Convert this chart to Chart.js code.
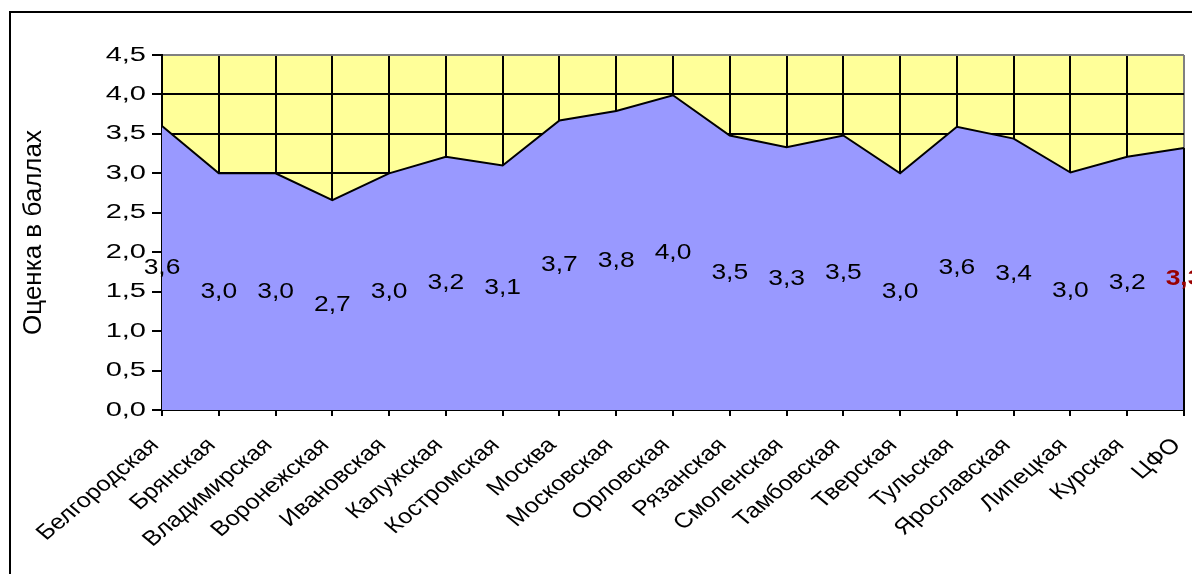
<!DOCTYPE html>
<html lang="ru">
<head>
<meta charset="utf-8">
<title>Оценка в баллах</title>
<script src="https://cdn.jsdelivr.net/npm/chart.js@4/dist/chart.umd.min.js"></script>
<style>
    html, body { margin: 0; padding: 0; background: #fff; }
    #wrap { width: 1192px; height: 574px; position: relative; }
</style>
</head>
<body>
<div id="wrap"><canvas id="scoreChart" width="1192" height="574"></canvas></div>
<script>
const regions = ['Белгородская', 'Брянская', 'Владимирская', 'Воронежская', 'Ивановская',
    'Калужская', 'Костромская', 'Москва', 'Московская', 'Орловская', 'Рязанская',
    'Смоленская', 'Тамбовская', 'Тверская', 'Тульская', 'Ярославская', 'Липецкая',
    'Курская', 'ЦФО'];
const scores = [3.6, 3.0, 3.0, 2.66, 3.0, 3.21, 3.1, 3.67, 3.79, 3.99, 3.48,
    3.33, 3.48, 3.0, 3.59, 3.44, 3.01, 3.21, 3.32];
const yTicks = [0, 0.5, 1, 1.5, 2, 2.5, 3, 3.5, 4, 4.5];

const FONT = '"Liberation Sans", Arial, sans-serif';
const fmt = v => v.toFixed(1).replace('.', ',');

// текст в исходной картинке растянут по горизонтали
function wideText(c, text, x, y, sx, rot) {
    c.save();
    c.translate(x, y);
    c.scale(sx, 1);
    if (rot) c.rotate(rot);
    c.fillText(text, 0, 0);
    c.restore();
}

document.addEventListener("DOMContentLoaded", function() {
    const ctx = document.getElementById('scoreChart').getContext('2d');

    // фон области построения, рамки и все подписи
    const decor = {
        id: 'decor',
        beforeDraw(chart) {
            const a = chart.chartArea, c = chart.ctx;
            c.save();
            c.fillStyle = '#FFFF99';
            c.fillRect(a.left, a.top, a.right - a.left, a.bottom - a.top);
            c.restore();
        },
        afterDatasetsDraw(chart) {
            const a = chart.chartArea, c = chart.ctx;
            const x = chart.scales.x, y = chart.scales.y;
            c.save();
            // правый край заливки
            c.strokeStyle = '#000';
            c.lineWidth = 2;
            c.beginPath();
            c.moveTo(a.right, y.getPixelForValue(scores[scores.length - 1]));
            c.lineTo(a.right, a.bottom);
            c.stroke();
            // подписи данных по центру заливки
            c.textAlign = 'center';
            c.textBaseline = 'middle';
            scores.forEach(function(v, i) {
                const last = i === scores.length - 1;
                c.font = (last ? 'bold ' : '') + '22px ' + FONT;
                c.fillStyle = last ? '#990000' : '#000';
                wideText(c, fmt(v), x.getPixelForValue(i), y.getPixelForValue(v / 2), 1.2);
            });
            c.restore();
        },
        afterDraw(chart) {
            const a = chart.chartArea, c = chart.ctx;
            const x = chart.scales.x, y = chart.scales.y;
            c.save();
            c.fillStyle = '#000';
            // значения оси Y
            c.font = '20px ' + FONT;
            c.textAlign = 'right';
            c.textBaseline = 'middle';
            yTicks.forEach(function(v) {
                wideText(c, fmt(v), a.left - 16, y.getPixelForValue(v), 1.45);
            });
            // названия регионов под углом
            c.font = '21px ' + FONT;
            regions.forEach(function(name, i) {
                wideText(c, name, x.getPixelForValue(i) - 7, a.bottom + 32, 1.2, -Math.PI / 4);
            });
            // внешняя рамка
            c.strokeStyle = '#000';
            c.lineWidth = 2;
            c.strokeRect(10, 12, 1300, 700);
            c.restore();
        }
    };

    new Chart(ctx, {
        type: 'line',
        data: {
            labels: regions,
            datasets: [{
                data: scores,
                fill: 'origin',
                backgroundColor: '#9999FF',
                borderColor: '#000',
                borderWidth: 2,
                pointRadius: 0,
                tension: 0
            }]
        },
        options: {
            responsive: false,
            animation: false,
            layout: { padding: { left: 0, top: 55, right: 8, bottom: 0 } },
            plugins: {
                legend: { display: false },
                tooltip: { enabled: false }
            },
            scales: {
                x: {
                    offset: false,
                    afterFit: function(scale) {
                        scale.height = 164;
                        scale.paddingLeft = 0;
                        scale.paddingRight = 0;
                    },
                    grid: {
                        color: c => c.index === regions.length - 1 ? '#808080' : '#000',
                        tickColor: '#000',
                        lineWidth: 2,
                        tickLength: 6
                    },
                    border: { color: '#000', width: 2 },
                    ticks: { display: false, autoSkip: false }
                },
                y: {
                    min: 0,
                    max: 4.5,
                    afterFit: function(scale) { scale.width = 162; },
                    afterBuildTicks: function(scale) {
                        scale.ticks = yTicks.map(v => ({ value: v }));
                    },
                    grid: {
                        color: c => c.tick && c.tick.value === 4.5 ? '#808080' : '#000',
                        tickColor: '#000',
                        lineWidth: 2,
                        tickLength: 10
                    },
                    border: { color: '#000', width: 2 },
                    ticks: { display: false },
                    title: {
                        display: true,
                        text: 'Оценка в баллах',
                        color: '#000',
                        font: { family: FONT, size: 26 },
                        padding: { top: 18, bottom: 0 }
                    }
                }
            }
        },
        plugins: [decor]
    });
});
</script>
</body>
</html>
